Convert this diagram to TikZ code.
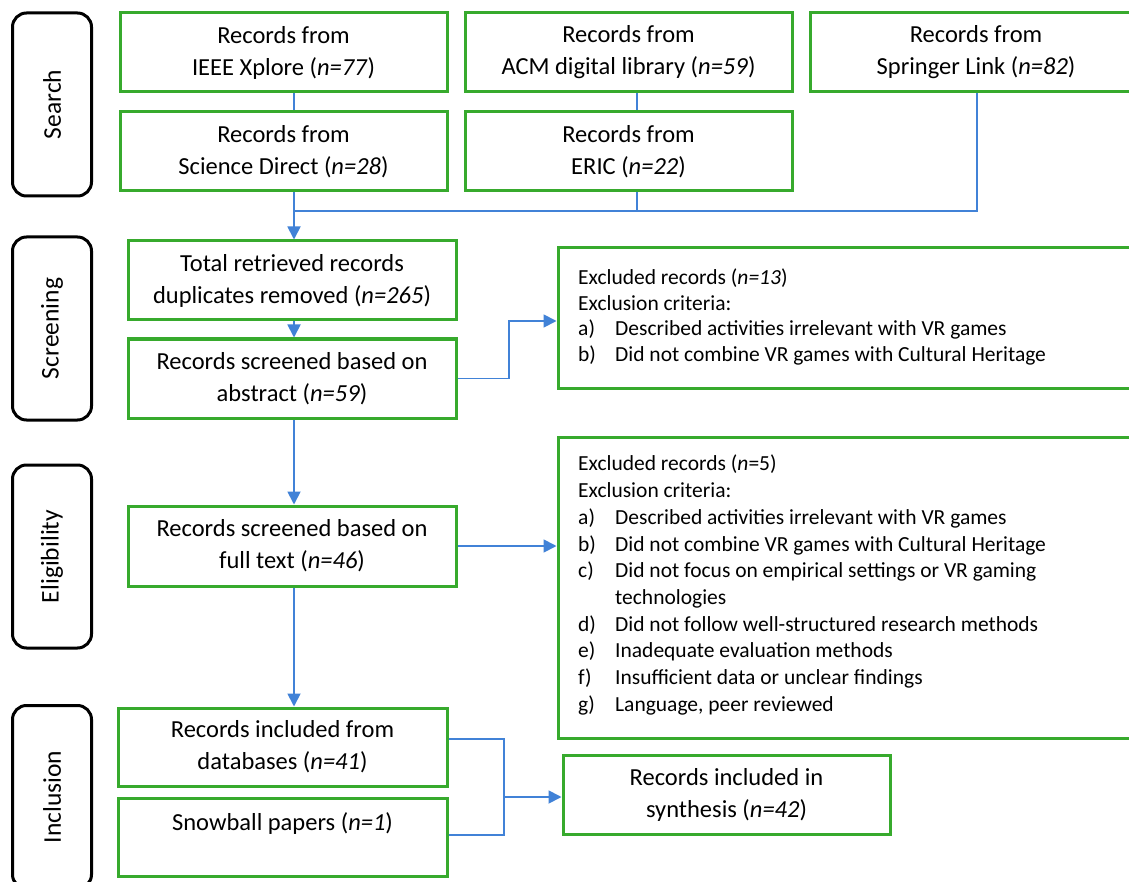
\documentclass[tikz,border=0pt]{standalone}
\usepackage{fontspec}
\setmainfont{Carlito}
\usetikzlibrary{arrows.meta,calc}
\definecolor{bgreen}{RGB}{55,170,45}
\definecolor{lblue}{RGB}{65,130,215}
\begin{document}
\begin{tikzpicture}[x=1pt,y=-1pt,
  gbox/.style={draw=bgreen,line width=3pt,minimum width=327pt,minimum height=79pt,
    inner sep=0pt,align=center,font=\fontsize{24.5}{32}\selectfont},
  stagebox/.style={draw=black,line width=3pt,rounded corners=14pt,rotate=90,
    minimum width=183pt,minimum height=79pt,inner sep=0pt,font=\fontsize{25.5}{28}\selectfont},
  exbox/.style={draw=bgreen,line width=3pt,inner sep=0pt},
  extext/.style={anchor=north west,inner sep=0pt,align=left},
  conn/.style={draw=lblue,line width=1.8pt},
  arr/.style={conn,-{Triangle[length=13pt,width=13pt]}}
]
\useasboundingbox (0,0) rectangle (1129,882);
\fill[white] (0,0) rectangle (1129,882);
\newcommand{\lbl}[1]{\makebox[37pt][l]{#1}}

% stage labels
\node[stagebox] (search) at (52,104.5) {Search};
\node[stagebox] (screen) at (52,328.5) {Screening};
\node[stagebox] (elig) at (52,556.5) {Eligibility};
\node[stagebox] (incl) at (52,797) {Inclusion};

% search boxes
\node[gbox] (ieee) at (283.5,52.5) {Records from\\IEEE Xplore (\textit{n=77})};
\node[gbox] (sci) at (283.5,151.5) {Records from\\Science Direct (\textit{n=28})};
\node[gbox] (acm) at (628.5,52.5) {Records from\\ACM digital library (\textit{n=59})};
\node[gbox] (eric) at (628.5,151.5) {Records from\\ERIC (\textit{n=22})};
\node[gbox,minimum width=332pt] (spr) at (976,52.5) {Records from\\Springer Link (\textit{n=82})};

% screening
\node[gbox,minimum width=328pt] (total) at (292,280.5) {Total retrieved records\\duplicates removed (\textit{n=265})};
\node[gbox,minimum width=328pt] (abs) at (292,378.5) {Records screened based on\\abstract (\textit{n=59})};
\node[exbox,minimum width=592pt,minimum height=140pt] (ex1) at (854,318) {};
\node[extext,font=\fontsize{21.5}{25.4}\selectfont] (ex1t) at (578,269) {Excluded records (\textit{n=13})\\
Exclusion criteria:\\
\lbl{a)}Described activities irrelevant with VR games\\
\lbl{b)}Did not combine VR games with Cultural Heritage};

% eligibility
\node[gbox,minimum width=328pt,minimum height=80pt] (full) at (292,546) {Records screened based on\\full text (\textit{n=46})};
\node[exbox,minimum width=592pt,minimum height=301pt] (ex2) at (854,587.5) {};
\node[extext,font=\fontsize{21.5}{26.7}\selectfont] (ex2t) at (578,455) {Excluded records (\textit{n}=5)\\
Exclusion criteria:\\
\lbl{a)}Described activities irrelevant with VR games\\
\lbl{b)}Did not combine VR games with Cultural Heritage\\
\lbl{c)}Did not focus on empirical settings or VR gaming\\
\lbl{}technologies\\
\lbl{d)}Did not follow well-structured research methods\\
\lbl{e)}Inadequate evaluation methods\\
\lbl{f)}Insufficient data or unclear findings\\
\lbl{g)}Language, peer reviewed};

% inclusion
\node[gbox,minimum width=329pt,minimum height=78pt] (db) at (282.5,747) {Records included from\\databases (\textit{n=41})};
\node[gbox,minimum width=329pt,minimum height=78pt] (snow) at (282.5,837) {Snowball papers (\textit{n=1})\\[-10pt]\strut};
\node[gbox,minimum width=327pt,minimum height=79pt] (syn) at (726.5,794.5) {Records included in\\synthesis (\textit{n=42})};

% connector coordinates
\coordinate (fx) at (294,211);
\coordinate (ax) at (637,211);
\coordinate (sx) at (977,211);
\coordinate (k1) at (509,321);
\coordinate (k2) at (504,797);

% search connectors
\draw[conn] (ieee.south -| fx) -- (sci.north -| fx);
\draw[conn] (acm.south -| ax) -- (eric.north -| ax);
\draw[conn] (eric.south -| ax) -- (ax);
\draw[conn] (spr.south -| sx) -- (sx) -- (fx);
\draw[arr] (sci.south -| fx) -- (total.north -| fx);

% screening connectors
\draw[arr] (total.south -| fx) -- (abs.north -| fx);
\draw[arr] (abs.east) -| (k1) -- (ex1.west |- k1);
\draw[arr] (abs.south -| fx) -- (full.north -| fx);

% eligibility connectors
\draw[arr] (full.east) -- (ex2.west |- full.east);
\draw[arr] (full.south -| fx) -- (db.north -| fx);

% inclusion connectors
\draw[conn] (db.east |- 0,739) -| (k2) |- (snow.east |- 0,835);
\draw[arr] (k2) -- (syn.west |- k2);
\end{tikzpicture}
\end{document}
